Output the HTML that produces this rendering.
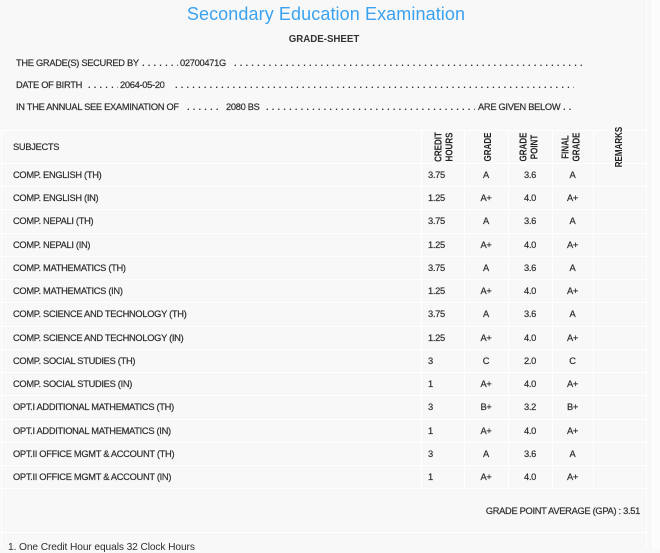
<!DOCTYPE html>
<html><head><meta charset="utf-8">
<style>
html,body{margin:0;padding:0}
body{width:660px;height:549px;overflow:hidden;background:#f8f8f8;position:relative;font-family:"Liberation Sans",Arial,sans-serif;color:#2e2e2e;font-size:9.3px;letter-spacing:-0.3px}
.a{position:absolute;white-space:nowrap}
.h{position:absolute;left:1px;width:645px;height:1px;background:#fff}
.v{position:absolute;width:1px;background:#fff}
.r{position:absolute;left:0;width:646px}
.r span{position:absolute;top:0;white-space:nowrap}
.r span,.t,.sub,.gpa{-webkit-text-stroke:0.2px #2e2e2e}
.s{left:13px}.c{left:428px}
.g{left:464px;width:44px;text-align:center}
.p{left:508px;width:44px;text-align:center}
.f{left:552px;width:41px;text-align:center}
.d{position:absolute;white-space:nowrap;overflow:hidden;letter-spacing:0.3px;line-height:12px;height:12px;font-weight:bold}
.t{position:absolute;white-space:nowrap;line-height:12px;height:12px}
.rot{position:absolute;font-weight:bold;font-size:10px;letter-spacing:0;line-height:10.5px;text-align:center;color:#222;white-space:nowrap;transform:translate(-50%,-50%) rotate(-90deg) scaleX(0.8)}
</style></head><body>
<div class="a" style="left:0;top:3px;width:652px;text-align:center;font-size:18px;letter-spacing:0.1px;line-height:22px;color:#3aa2f0">Secondary Education Examination</div>
<div class="a" style="left:0;top:34px;width:648px;text-align:center;font-size:9.7px;letter-spacing:0;font-weight:bold;line-height:12px;color:#333">GRADE-SHEET</div>

<div class="t" style="left:16px;top:56.5px">THE GRADE(S) SECURED BY</div>
<div class="d" style="left:142px;top:56.5px;width:36px">. . . . . . . . . .</div>
<div class="t" style="left:180px;top:56.5px">02700471G</div>
<div class="d" style="left:234px;top:56.5px;width:348px">. . . . . . . . . . . . . . . . . . . . . . . . . . . . . . . . . . . . . . . . . . . . . . . . . . . . . . . . . . . . . . . . . . . . . . . . . . . . . . . .</div>

<div class="t" style="left:16px;top:79px">DATE OF BIRTH</div>
<div class="d" style="left:88px;top:79px;width:30px">. . . . . . . . . .</div>
<div class="t" style="left:120px;top:79px">2064-05-20</div>
<div class="d" style="left:175px;top:79px;width:399px">. . . . . . . . . . . . . . . . . . . . . . . . . . . . . . . . . . . . . . . . . . . . . . . . . . . . . . . . . . . . . . . . . . . . . . . . . . . . . . . . . . . . . . . . . . . . .</div>

<div class="t" style="left:16px;top:101px">IN THE ANNUAL SEE EXAMINATION OF</div>
<div class="d" style="left:187px;top:101px;width:35px">. . . . . . . . . .</div>
<div class="t" style="left:226px;top:101px">2080 BS</div>
<div class="d" style="left:266px;top:101px;width:209px">. . . . . . . . . . . . . . . . . . . . . . . . . . . . . . . . . . . . . . . . . . . . . .</div>
<div class="t" style="left:478px;top:101px">ARE GIVEN BELOW</div>
<div class="d" style="left:563px;top:101px;width:12px">. . . . . .</div>

<!-- right container edges -->
<div class="v" style="left:646px;top:0;height:549px"></div>
<div class="v" style="left:652px;top:0;height:549px"></div>
<div style="position:absolute;left:653px;top:0;width:7px;height:549px;background:#fcfcfc"></div>
<div class="v" style="left:1px;top:130px;height:419px"></div>

<!-- horizontal lines -->
<div class="h" style="top:130px"></div>
<div class="h" style="top:163px"></div>
<div class="h" style="top:186px"></div>
<div class="h" style="top:209px"></div>
<div class="h" style="top:233px"></div>
<div class="h" style="top:256px"></div>
<div class="h" style="top:279px"></div>
<div class="h" style="top:302px"></div>
<div class="h" style="top:326px"></div>
<div class="h" style="top:349px"></div>
<div class="h" style="top:372px"></div>
<div class="h" style="top:395px"></div>
<div class="h" style="top:419px"></div>
<div class="h" style="top:442px"></div>
<div class="h" style="top:465px"></div>
<div class="h" style="top:488px"></div>
<div class="h" style="top:532px"></div>

<!-- vertical column lines -->
<div class="v" style="left:421px;top:130px;height:358px"></div>
<div class="v" style="left:464px;top:130px;height:358px"></div>
<div class="v" style="left:508px;top:130px;height:358px"></div>
<div class="v" style="left:552px;top:130px;height:358px"></div>
<div class="v" style="left:593px;top:130px;height:358px"></div>

<!-- header -->
<div class="a sub" style="left:13px;top:141px;line-height:12px">SUBJECTS</div>
<div class="rot" style="left:445px;top:147px">CREDIT<br>HOURS</div>
<div class="rot" style="left:488.5px;top:147px">GRADE</div>
<div class="rot" style="left:530px;top:147px">GRADE<br>POINT</div>
<div class="rot" style="left:572px;top:147px">FINAL<br>GRADE</div>
<div class="rot" style="left:620px;top:147px">REMARKS</div>

<!-- rows -->
<div class="r" style="top:163px;height:23px;line-height:24px"><span class="s">COMP. ENGLISH (TH)</span><span class="c">3.75</span><span class="g">A</span><span class="p">3.6</span><span class="f">A</span></div>
<div class="r" style="top:186px;height:23px;line-height:24px"><span class="s">COMP. ENGLISH (IN)</span><span class="c">1.25</span><span class="g">A+</span><span class="p">4.0</span><span class="f">A+</span></div>
<div class="r" style="top:209px;height:24px;line-height:25px"><span class="s">COMP. NEPALI (TH)</span><span class="c">3.75</span><span class="g">A</span><span class="p">3.6</span><span class="f">A</span></div>
<div class="r" style="top:233px;height:23px;line-height:24px"><span class="s">COMP. NEPALI (IN)</span><span class="c">1.25</span><span class="g">A+</span><span class="p">4.0</span><span class="f">A+</span></div>
<div class="r" style="top:256px;height:23px;line-height:24px"><span class="s">COMP. MATHEMATICS (TH)</span><span class="c">3.75</span><span class="g">A</span><span class="p">3.6</span><span class="f">A</span></div>
<div class="r" style="top:279px;height:23px;line-height:24px"><span class="s">COMP. MATHEMATICS (IN)</span><span class="c">1.25</span><span class="g">A+</span><span class="p">4.0</span><span class="f">A+</span></div>
<div class="r" style="top:302px;height:24px;line-height:25px"><span class="s">COMP. SCIENCE AND TECHNOLOGY (TH)</span><span class="c">3.75</span><span class="g">A</span><span class="p">3.6</span><span class="f">A</span></div>
<div class="r" style="top:326px;height:23px;line-height:24px"><span class="s">COMP. SCIENCE AND TECHNOLOGY (IN)</span><span class="c">1.25</span><span class="g">A+</span><span class="p">4.0</span><span class="f">A+</span></div>
<div class="r" style="top:349px;height:23px;line-height:24px"><span class="s">COMP. SOCIAL STUDIES (TH)</span><span class="c">3</span><span class="g">C</span><span class="p">2.0</span><span class="f">C</span></div>
<div class="r" style="top:372px;height:23px;line-height:24px"><span class="s">COMP. SOCIAL STUDIES (IN)</span><span class="c">1</span><span class="g">A+</span><span class="p">4.0</span><span class="f">A+</span></div>
<div class="r" style="top:395px;height:24px;line-height:25px"><span class="s">OPT.I ADDITIONAL MATHEMATICS (TH)</span><span class="c">3</span><span class="g">B+</span><span class="p">3.2</span><span class="f">B+</span></div>
<div class="r" style="top:419px;height:23px;line-height:24px"><span class="s">OPT.I ADDITIONAL MATHEMATICS (IN)</span><span class="c">1</span><span class="g">A+</span><span class="p">4.0</span><span class="f">A+</span></div>
<div class="r" style="top:442px;height:23px;line-height:24px"><span class="s">OPT.II OFFICE MGMT &amp; ACCOUNT (TH)</span><span class="c">3</span><span class="g">A</span><span class="p">3.6</span><span class="f">A</span></div>
<div class="r" style="top:465px;height:23px;line-height:24px"><span class="s">OPT.II OFFICE MGMT &amp; ACCOUNT (IN)</span><span class="c">1</span><span class="g">A+</span><span class="p">4.0</span><span class="f">A+</span></div>

<!-- GPA -->
<div class="a gpa" style="left:0;width:640px;top:505px;line-height:12px;text-align:right">GRADE POINT AVERAGE (GPA) : 3.51</div>

<div class="a" style="left:8px;top:541.5px;font-size:10.2px;letter-spacing:-0.1px;line-height:11px">1. One Credit Hour equals 32 Clock Hours</div>
</body></html>
